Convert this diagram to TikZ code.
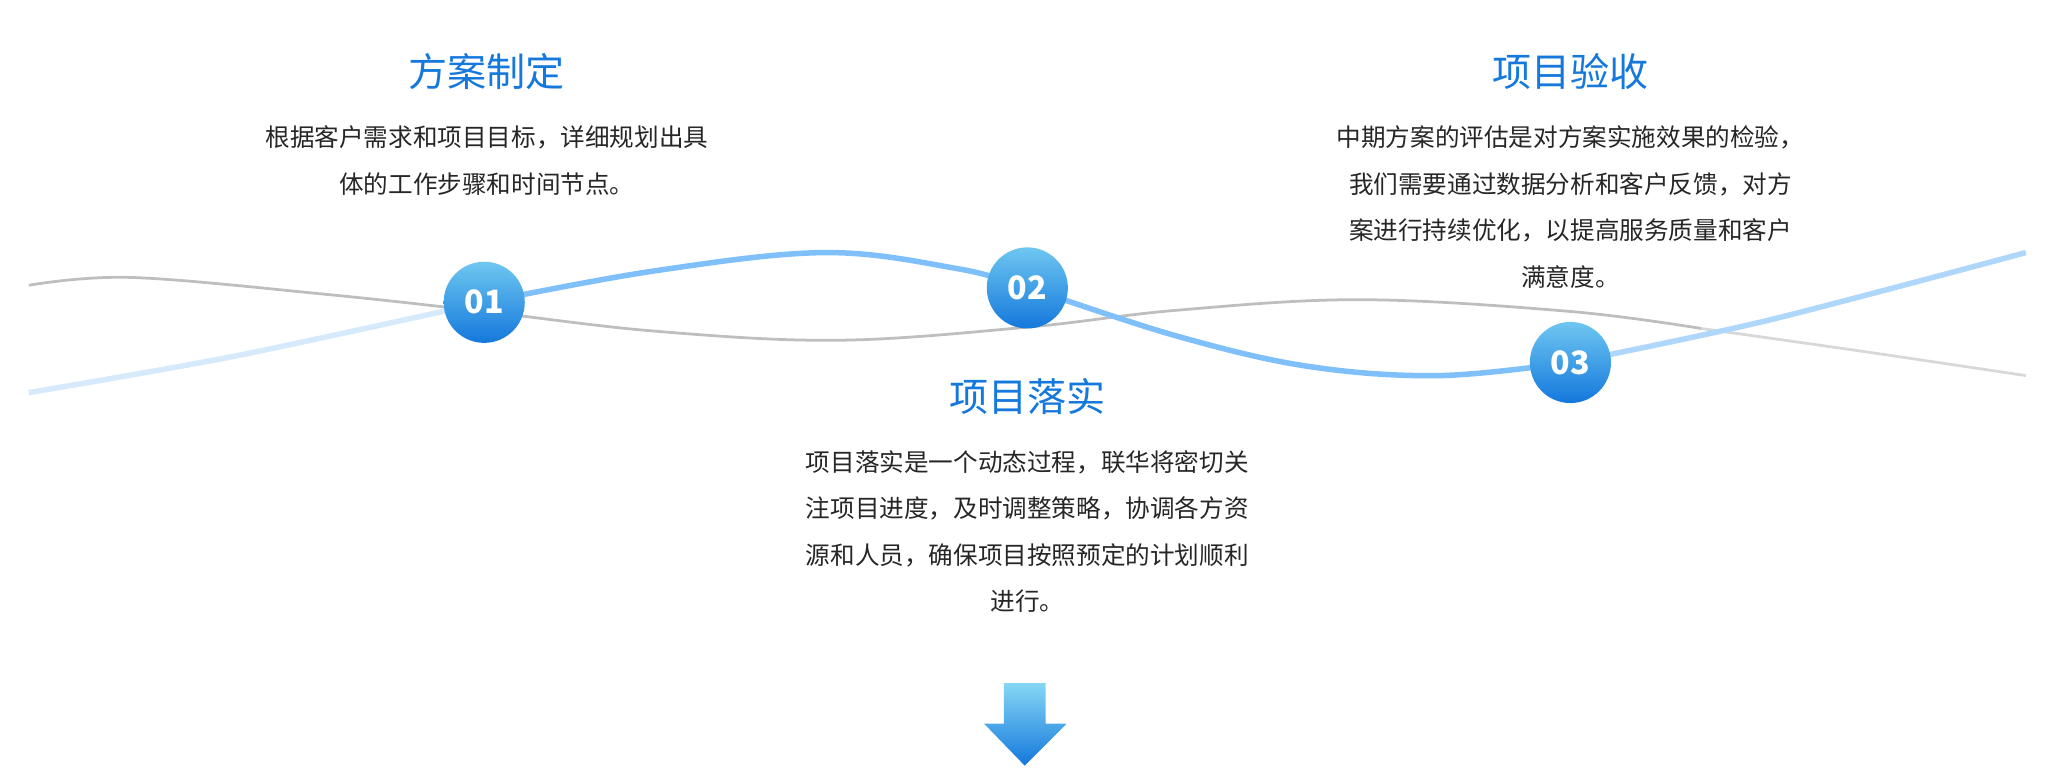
\documentclass[tikz,border=0pt]{standalone}
\usepackage{fontspec}
\setmainfont{Noto Sans CJK SC}
\usetikzlibrary{positioning}
\definecolor{stepblue}{RGB}{20,120,220}
\definecolor{waveblue}{RGB}{128,192,250}
\definecolor{wavelight}{RGB}{214,234,252}
\definecolor{wavegray}{RGB}{190,190,190}
\tikzset{
  numball/.style={circle,minimum size=1.24cm,inner sep=0pt,top color=stepblue!70!cyan!60,bottom color=stepblue,text=white,font=\bfseries\fontsize{14}{14}\selectfont},
  steptitle/.style={text=stepblue,font=\fontsize{17}{17}\selectfont},
  stepbody/.style={align=center,font=\fontsize{10.7}{20.2}\selectfont,text=black!85}
}
\begin{document}
\begin{tikzpicture}[x=0.02cm,y=-0.02cm]
  \useasboundingbox (0,0) rectangle (1568,592);
  % waves
  \draw[wavegray,line width=1.2pt] plot[smooth,tension=0.6] coordinates {(22,218) (100,212) (250,225) (370,238) (500,253) (640,260) (785,250) (900,237) (1040,229) (1200,238) (1300,251)};
  \draw[wavegray!60,line width=1.2pt] plot[smooth] coordinates {(1300,251) (1420,268) (1548,287)};
  \draw[wavelight,line width=2.4pt] plot[smooth] coordinates {(22,300) (180,272) (370,231)};
  \draw[waveblue!45!wavelight,line width=2.4pt] plot[smooth] coordinates {(1200,277) (1350,245) (1548,193)};
  \draw[waveblue,line width=2.4pt] plot[smooth,tension=0.6] coordinates {(370,231) (500,207) (630,193) (730,205) (785,220) (900,257) (1000,280) (1100,287) (1200,277)};
  % steps
  \node[numball] (n1) at (370,231) {01};
  \node[numball] (n2) at (785,220) {02};
  \node[numball] (n3) at (1200,277) {03};
  \node[steptitle] (t1) at (372,55) {方案制定};
  \node[stepbody,below=0.3cm of t1] (b1) {根据客户需求和项目目标，详细规划出具\\体的工作步骤和时间节点。};
  \node[steptitle] (t3) at (1200,55) {项目验收};
  \node[stepbody,below=0.3cm of t3] (b3) {中期方案的评估是对方案实施效果的检验，\\我们需要通过数据分析和客户反馈，对方\\案进行持续优化，以提高服务质量和客户\\满意度。};
  \node[steptitle] (t2) at (785,303) {项目落实};
  \node[stepbody,below=0.3cm of t2] (b2) {项目落实是一个动态过程，联华将密切关\\注项目进度，及时调整策略，协调各方资\\源和人员，确保项目按照预定的计划顺利\\进行。};
  % arrow
  \shade[top color=stepblue!60!cyan!50,bottom color=stepblue] (767,522) -- (799,522) -- (799,553) -- (815,553) -- (783,585) -- (752,553) -- (767,553) -- cycle;
\end{tikzpicture}
\end{document}
